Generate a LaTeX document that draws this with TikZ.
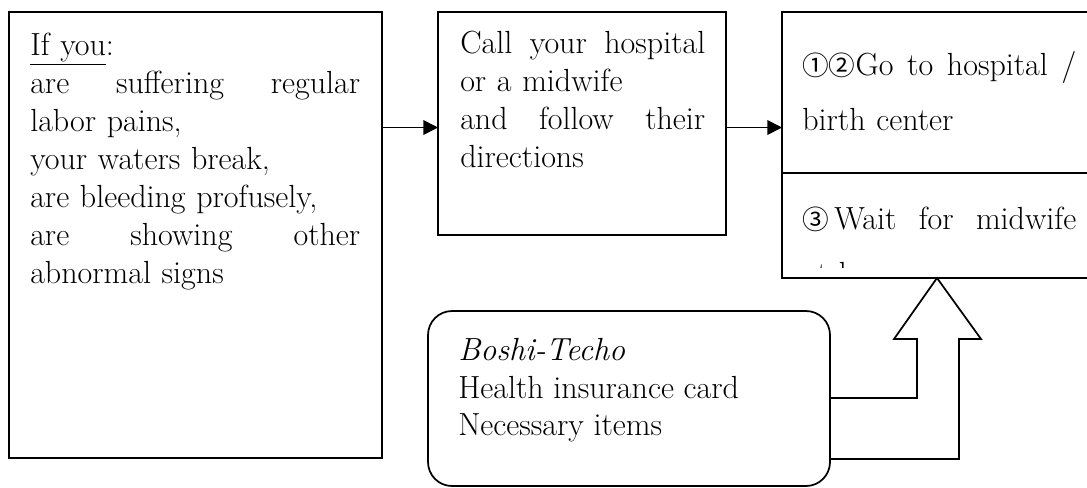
\documentclass[tikz,border=0pt]{standalone}
\usepackage{fontspec}
\newfontfamily\circfont{Noto Sans CJK JP}
\usetikzlibrary{arrows.meta,positioning}

\begin{document}
\begin{tikzpicture}[>={Triangle[length=11pt,width=11pt]}, x=0.75pt, y=-0.75pt, node distance=42pt]
        \tikzstyle{frame}=[rectangle, draw=black, line width=1.3pt, inner sep=0pt, outer sep=0pt]
        \tikzstyle{boxtext}=[inner sep=0pt, anchor=north west, align=left, font=\fontsize{24}{28.5}\selectfont]
        \useasboundingbox (0,0) rectangle (1087,487);
        \node[frame, minimum width=279.75pt, minimum height=334.5pt, anchor=north west] (cond) at (9,12) {};
        \node[frame, minimum width=216pt, minimum height=167.25pt, right=of cond.north east, anchor=north west] (call) {};
        \node[frame, minimum width=237.75pt, minimum height=120.75pt, right=of call.north east, anchor=north west] (go) {};
        \node[frame, minimum width=237.75pt, minimum height=78.75pt, anchor=north] (wait) at (go.south) {};
        \node[frame, rounded corners=18pt, minimum width=301.5pt, minimum height=131.25pt, below=57pt of call.south west, anchor=north west, xshift=-7.5pt] (items) {};
        \node[boxtext, text width=247.5pt] (condtext) at ([shift={(21,21)}]cond.north west)
            {\underline{If you}:\\are\hfill suffering\hfill regular\\labor pains,\\your waters break,\\are bleeding profusely,\\are\hfill showing\hfill other\\abnormal signs};
        \node[boxtext, text width=183.75pt] (calltext) at ([shift={(22,19)}]call.north west)
            {Call\hfill your\hfill hospital\\or a midwife\\and\hfill follow\hfill their\\directions};
        \node[boxtext, text width=205.5pt, font=\fontsize{24}{41.25}\selectfont] (gotext) at ([shift={(20,39)}]go.north west)
            {{\circfont\fontsize{20}{20}\selectfont ①②}Go\hfill to\hfill hospital\hfill /\\birth center};
        \begin{scope}
            \clip (wait.north west) rectangle (1087,267);
            \node[boxtext, text width=205.5pt, font=\fontsize{24}{41.25}\selectfont] (waittext) at ([shift={(20,34)}]wait.north west)
                {{\circfont\fontsize{20}{20}\selectfont ③}\,Wait\hfill for\hfill midwife\\at home};
        \end{scope}
        \node[boxtext, font=\fontsize{24}{28.2}\selectfont] (itemstext) at ([shift={(30,27)}]items.north west)
            {\textit{Boshi-Techo}\\Health insurance card\\Necessary items};
        \draw[->, line width=1.3pt] ([yshift=-3pt]cond.east |- call.west) -- ([yshift=-3pt]call.west);
        \draw[->, line width=1.3pt] ([yshift=-3pt]call.east) -- ([yshift=-3pt]go.west |- call.east);
        \coordinate (tip) at (wait.south -| 937,0);
        \draw[line width=1.3pt] (items.east |- 0,398) -- (917,398) -- (917,339) -- (894,339) -- (tip)
            -- (981,339) -- (959,339) -- (959,459) -- (items.east |- 0,459);
    \end{tikzpicture}
\end{document}
